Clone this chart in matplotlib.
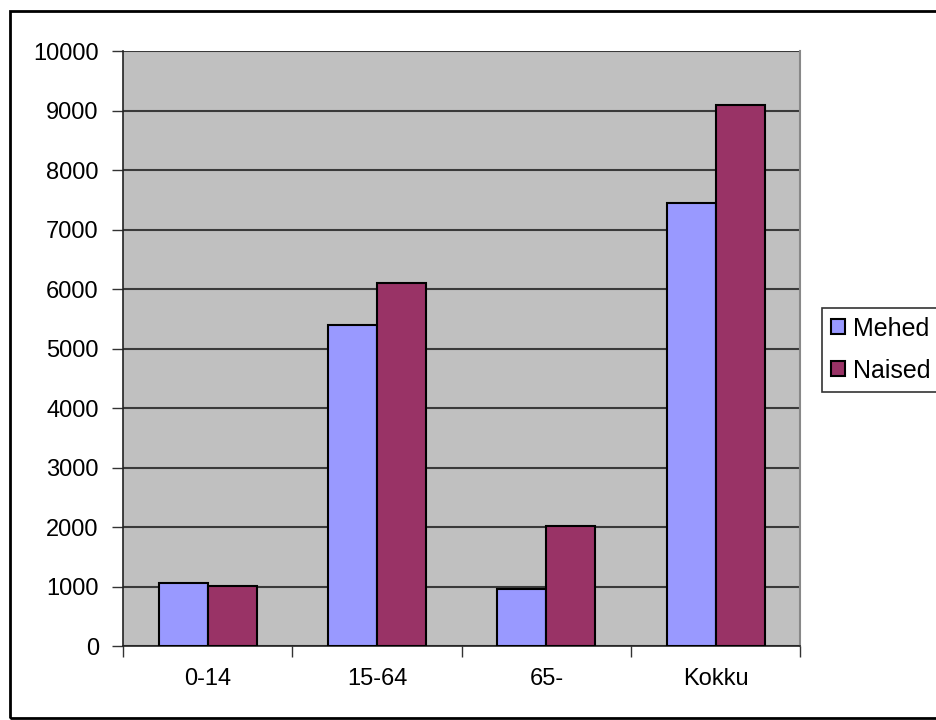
import matplotlib.pyplot as plt
import numpy as np
from matplotlib.patches import Rectangle

categories = ["0-14", "15-64", "65-", "Kokku"]
mehed = [1070, 5400, 965, 7450]
naised = [1010, 6100, 2025, 9100]
series_names = ["Mehed", "Naised"]

plt.rcParams["font.family"] = ["Liberation Sans", "DejaVu Sans"]

fig = plt.figure(figsize=(9.36, 7.2), dpi=100)
ax = fig.add_axes([0.1315, 0.1025, 0.7235, 0.826])

x = np.arange(len(categories))
w = 0.29
ax.bar(x - w / 2, mehed, w, color="#9999FF", edgecolor="black", linewidth=1.5,
       label=series_names[0], zorder=3)
ax.bar(x + w / 2, naised, w, color="#993366", edgecolor="black", linewidth=1.5,
       label=series_names[1], zorder=3)

ax.set_facecolor("#C0C0C0")
ax.set_xlim(-0.5, 3.5)
ax.set_ylim(0, 10000)
ax.set_yticks(np.arange(0, 10001, 1000))
ax.yaxis.grid(True, color="#3a3a3a", linewidth=1.5, zorder=1)
ax.set_axisbelow(True)

ax.set_xticks(x)
ax.set_xticklabels(categories)
ax.set_xticks(np.arange(-0.5, 3.6, 1), minor=True)
ax.tick_params(axis="x", which="major", length=0, pad=16, labelsize=17)
ax.tick_params(axis="x", which="minor", length=8, width=1, color="#333333")
ax.tick_params(axis="y", length=8, width=1, color="#333333", pad=9.5, labelsize=17)

for side in ["left", "bottom"]:
    ax.spines[side].set_color("#222222")
    ax.spines[side].set_linewidth(1.2)
ax.spines["top"].set_visible(False)
ax.spines["right"].set_color("#888888")
ax.spines["right"].set_linewidth(1.5)

leg = fig.legend(loc="upper left", bbox_to_anchor=(822 / 936, 1 - 308 / 720),
                 fontsize=18, frameon=True, fancybox=False, edgecolor="black",
                 handlelength=0.55, handleheight=0.55, handletextpad=0.35,
                 borderpad=0.35, labelspacing=0.72, borderaxespad=0)
leg.get_frame().set_linewidth(1.2)

fig.patches.append(Rectangle((0.0105, 0.003), 1.0, 0.9817, transform=fig.transFigure,
                             fill=False, edgecolor="black", linewidth=2))

fig.savefig("out.png", dpi=100)
